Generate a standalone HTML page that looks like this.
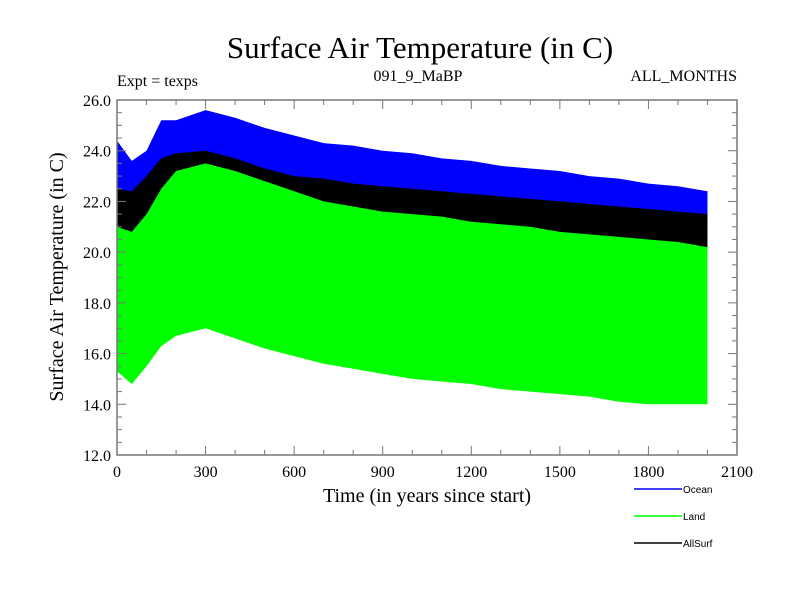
<!DOCTYPE html>
<html><head><meta charset="utf-8"><style>
body{margin:0;background:#fff}
svg{display:block;font-family:"Liberation Serif",serif}
</style></head><body>
<svg id="chart" width="800" height="600" viewBox="0 0 800 600">
<text x="420" y="58" text-anchor="middle" font-size="31">Surface Air Temperature (in C)</text>
<text x="117" y="86" font-size="16">Expt = texps</text>
<text x="418" y="81" text-anchor="middle" font-size="16">091_9_MaBP</text>
<text x="737" y="81" text-anchor="end" font-size="16">ALL_MONTHS</text>
<text transform="translate(63,277) rotate(-90)" text-anchor="middle" font-size="20">Surface Air Temperature (in C)</text>
<text x="427" y="502" text-anchor="middle" font-size="20">Time (in years since start)</text>
<g id="bands"></g>
<g id="axes"></g>
<g font-family="Liberation Sans, sans-serif" font-size="10">
<line x1="634" y1="489" x2="682" y2="489" stroke="#0000ff" stroke-width="1.5"/>
<text x="683" y="493">Ocean</text>
<line x1="634" y1="516" x2="682" y2="516" stroke="#00ff00" stroke-width="1.5"/>
<text x="683" y="520">Land</text>
<line x1="634" y1="543" x2="682" y2="543" stroke="#000" stroke-width="1.5"/>
<text x="683" y="547">AllSurf</text>
</g>
</svg>
<script>
const years=[0,50,100,150,200,300,400,500,600,700,800,900,1000,1100,1200,1300,1400,1500,1600,1700,1800,1900,2000];
const oceanMax=[24.4,23.6,24.0,25.2,25.2,25.6,25.3,24.9,24.6,24.3,24.2,24.0,23.9,23.7,23.6,23.4,23.3,23.2,23.0,22.9,22.7,22.6,22.4];
const oceanMin=[22.4,22.3,22.8,23.5,23.7,23.8,23.5,23.1,22.8,22.7,22.5,22.4,22.3,22.2,22.1,22.0,21.9,21.8,21.7,21.6,21.5,21.4,21.3];
const allMax=[22.5,22.4,23.0,23.7,23.9,24.0,23.7,23.3,23.0,22.9,22.7,22.6,22.5,22.4,22.3,22.2,22.1,22.0,21.9,21.8,21.7,21.6,21.5];
const allMin=[20.8,20.6,21.2,22.0,22.6,22.9,22.6,22.1,21.7,21.4,21.2,21.0,20.9,20.7,20.6,20.5,20.4,20.2,20.1,20.0,19.9,19.9,19.8];
const landMax=[21.0,20.8,21.5,22.5,23.2,23.5,23.2,22.8,22.4,22.0,21.8,21.6,21.5,21.4,21.2,21.1,21.0,20.8,20.7,20.6,20.5,20.4,20.2];
const landMin=[15.3,14.8,15.5,16.3,16.7,17.0,16.6,16.2,15.9,15.6,15.4,15.2,15.0,14.9,14.8,14.6,14.5,14.4,14.3,14.1,14.0,14.0,14.0];
const yTicks=["12.0","14.0","16.0","18.0","20.0","22.0","24.0","26.0"];
const xTicks=["0","300","600","900","1200","1500","1800","2100"];
const X0=117,X1=737,Y0=455,Y1=100;
const sx=v=>X0+(v/2100)*(X1-X0);
const sy=v=>Y0-((v-12)/14)*(Y0-Y1);
const NS="http://www.w3.org/2000/svg";
function mk(t,a,p){const e=document.createElementNS(NS,t);for(const k in a)e.setAttribute(k,a[k]);p.appendChild(e);return e;}
const bands=document.getElementById('bands');
function band(maxA,minA,color,name){
  let pts=years.map((y,i)=>sx(y)+','+sy(maxA[i]));
  for(let i=years.length-1;i>=0;i--)pts.push(sx(years[i])+','+sy(minA[i]));
  const p=mk('polygon',{points:pts.join(' '),fill:color},bands);
  
  
}
band(oceanMax,oceanMin,'#0000ff','ocean-band');
band(allMax,allMin,'#000000','allsurf-band');
band(landMax,landMin,'#00ff00','land-band');
const ax=document.getElementById('axes');
mk('rect',{x:X0,y:Y1,width:X1-X0,height:Y0-Y1,fill:'none',stroke:'#777','stroke-width':1.5},ax);
for(let v=0;v<=2100;v+=100){const x=sx(v),L=v%300===0?9:5;
 mk('line',{x1:x,y1:Y0,x2:x,y2:Y0-L,stroke:'#777'},ax);mk('line',{x1:x,y1:Y1,x2:x,y2:Y1+L,stroke:'#777'},ax);}
for(let v=12;v<=26;v+=0.5){const y=sy(v),L=Math.abs(v%2)<1e-6?9:5;
 mk('line',{x1:X0,y1:y,x2:X0+L,y2:y,stroke:'#777'},ax);mk('line',{x1:X1,y1:y,x2:X1-L,y2:y,stroke:'#777'},ax);}
xTicks.forEach(t=>{const e=mk('text',{x:sx(+t),y:Y0+22,'text-anchor':'middle','font-size':16},ax);e.textContent=t;
 
 });
yTicks.forEach(t=>{const e=mk('text',{x:X0-6,y:sy(+t)+6,'text-anchor':'end','font-size':16},ax);e.textContent=t;
 
 });
</script>
</body></html>
